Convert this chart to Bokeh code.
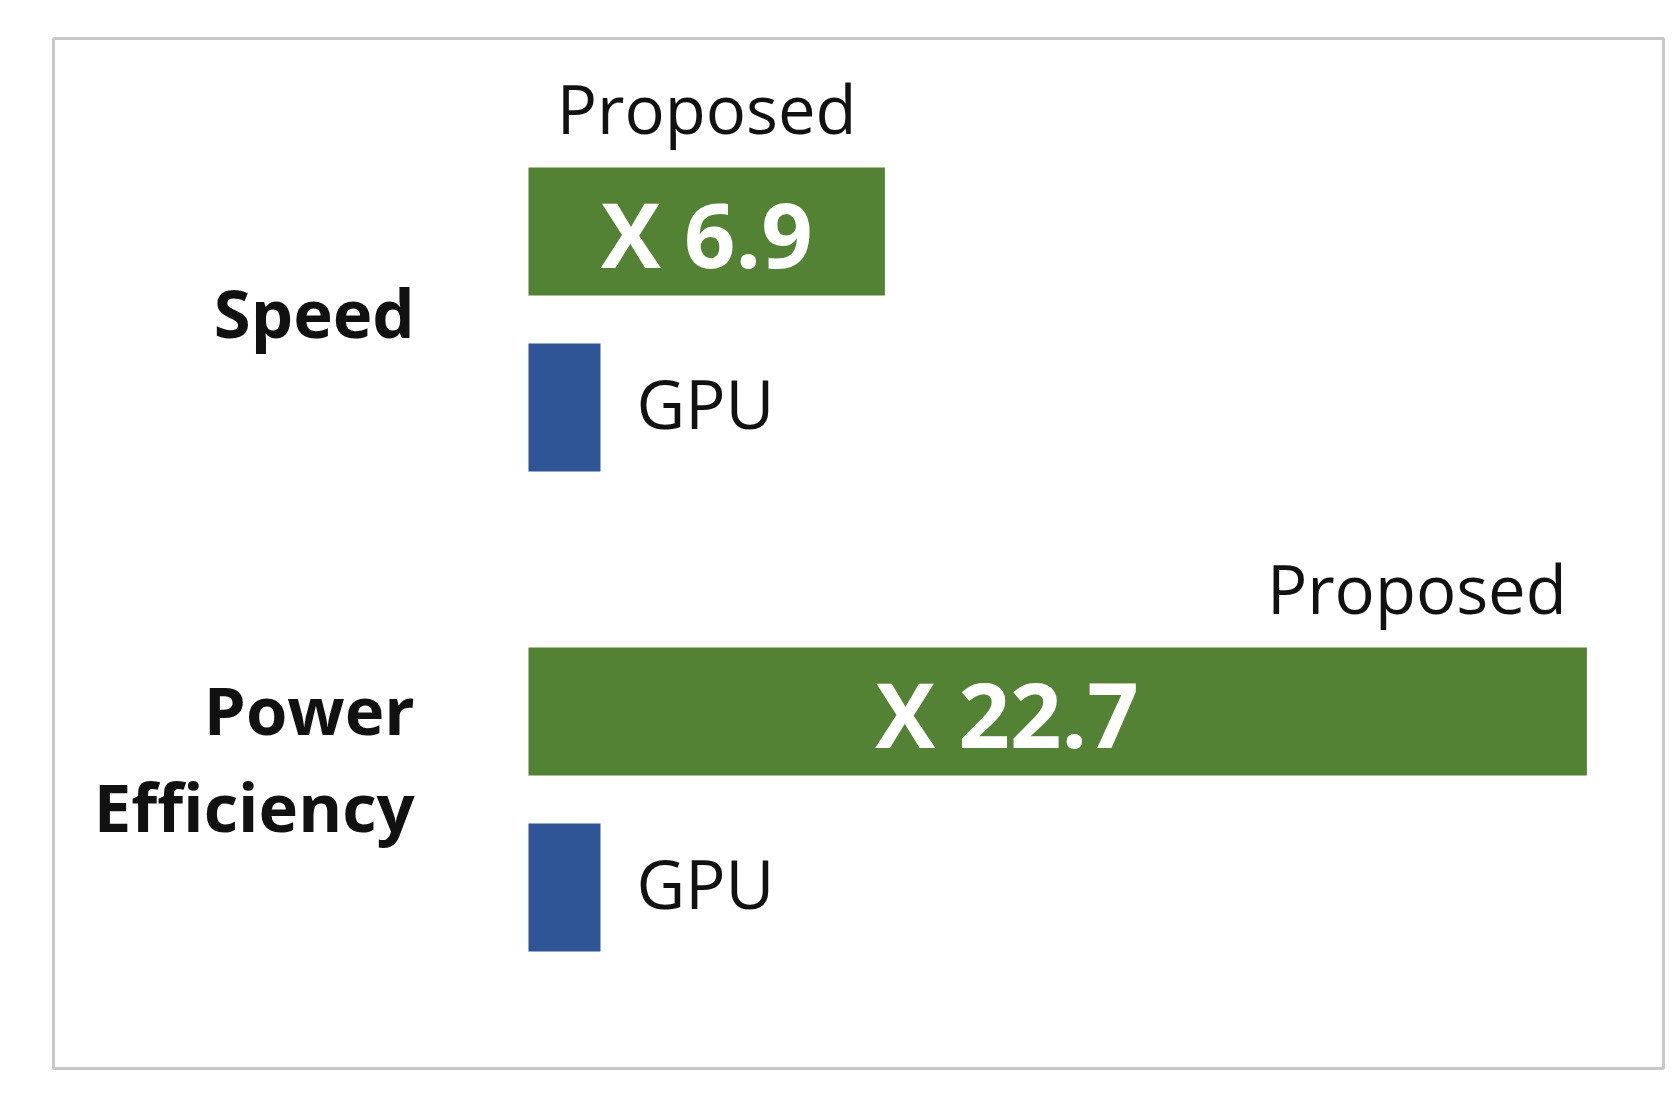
from bokeh.plotting import figure
from bokeh.models import Range1d
from bokeh.core.properties import value
from bokeh.embed import file_html
from bokeh.resources import INLINE

# ---- data (bar lengths in units of the GPU bar) ----
categories = ["Speed", "Power\nEfficiency"]
series_names = ["Proposed", "GPU"]
gpu_len = [1.0, 1.0]
proposed_len = [4.95, 14.7]
factor_labels = ["X 6.9", "X 22.7"]

# ---- styling / layout ----
GREEN = "#548235"
BLUE = "#2F5597"
FONT = "Open Sans"
TXT = "#111111"
BAR_H = 1.0
GROUP_STEP = 3.75
GPU_OFFSET = 1.375
LINE_STEP = 0.758
FIX67 = -0.215                         # baseline correction for 67px text
FIX90 = -0.265                         # baseline correction for 90px text
label_shift = [-0.05, -0.32]           # vertical nudge of category labels
factor_pos = [0.5, 0.452]              # where the factor label sits along the bar
prop_align = ["center", "right"]       # placement of "Proposed" label

y_prop = [i * GROUP_STEP for i in range(len(categories))]
y_gpu = [v + GPU_OFFSET for v in y_prop]

p = figure(width=1670, height=1090, output_backend="svg", toolbar_location=None,
           x_range=Range1d(-6.597, 15.764), y_range=Range1d(6.539, -1.508),
           x_axis_type=None, y_axis_type=None,
           min_border_left=53, min_border_right=7, min_border_top=38, min_border_bottom=22)
p.grid.visible = False
p.outline_line_color = "#c8c8c8"
p.outline_line_width = 3
p.background_fill_color = "white"
p.border_fill_color = "white"

# bars
p.hbar(y=y_prop, left=0, right=proposed_len, height=BAR_H, fill_color=GREEN, line_color=None)
p.hbar(y=y_gpu, left=0, right=gpu_len, height=BAR_H, fill_color=BLUE, line_color=None)

# factor labels inside green bars
fx = [l * f for l, f in zip(proposed_len, factor_pos)]
fy = [y + 0.28 + FIX90 for y in y_prop]
p.text(x=fx, y=fy, text=factor_labels, text_color="white", text_font=value(FONT),
       text_font_style="bold", text_font_size="90px", text_align="center",
       text_baseline="alphabetic")

# "Proposed" labels above green bars
for l, y, a in zip(proposed_len, y_prop, prop_align):
    x = l / 2 if a == "center" else l - 0.28
    p.text(x=[x], y=[y - BAR_H / 2 - 0.25 + FIX67], text=[series_names[0]], text_color=TXT,
           text_font=value(FONT), text_font_size="67px", text_align=a,
           text_baseline="alphabetic")

# "GPU" labels right of blue bars
p.text(x=[l + 0.5 for l in gpu_len], y=[y + 0.18 + FIX67 for y in y_gpu],
       text=[series_names[1]] * len(gpu_len), text_color=TXT,
       text_font=value(FONT), text_font_size="67px", text_align="left",
       text_baseline="alphabetic")

# category labels on the left
for cat, y0, yg, sh in zip(categories, y_prop, y_gpu, label_shift):
    lines = cat.split("\n")
    mid = (y0 + yg) / 2
    first = mid + 0.207 + sh + FIX67 - (len(lines) - 1) * LINE_STEP / 2
    p.text(x=[-1.58] * len(lines), y=[first + k * LINE_STEP for k in range(len(lines))],
           text=lines, text_color=TXT, text_font=value(FONT),
           text_font_style="bold", text_font_size="67px", text_align="right",
           text_baseline="alphabetic")

open("out.html", "w").write(file_html(p, INLINE))
